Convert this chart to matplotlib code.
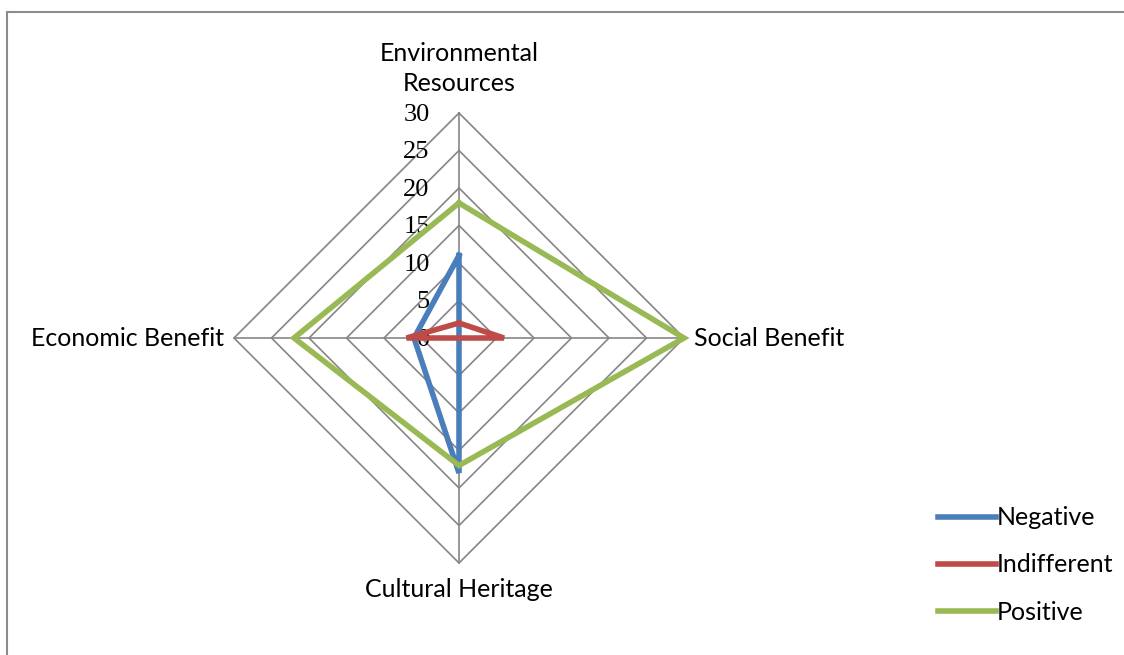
import matplotlib
matplotlib.use("Agg")
import matplotlib.pyplot as plt
import numpy as np
from matplotlib.patches import Rectangle

categories = ["Environmental\nResources", "Social Benefit", "Cultural Heritage", "Economic Benefit"]
series_names = ["Negative", "Indifferent", "Positive"]
negative = [11, 0, 18, 6]
indifferent = [2, 6, 0, 7]
positive = [18, 30, 17, 22]
ticks = [0, 5, 10, 15, 20, 25, 30]

colors = ["#4A7EBB", "#BE4B48", "#98B954"]
grid_color = "#868686"
sans = "Lato"
fs = 18

# spokes go up, right, down, left
angles = np.array([90, 0, -90, 180]) * np.pi / 180


def to_xy(vals):
    vals = np.asarray(vals, dtype=float)
    x = vals * np.cos(angles)
    y = vals * np.sin(angles)
    return np.append(x, x[0]), np.append(y, y[0])


fig = plt.figure(figsize=(11.24, 6.55), dpi=100)
ax = fig.add_axes([0, 0, 1, 1])
ax.set_xlim(-459 / 7.5, (1124 - 459) / 7.5)
ax.set_ylim(-(655 - 338) / 7.5, 338 / 7.5)
ax.axis("off")

# outer frame (cut off at right and bottom like the original)
fig.patches.append(Rectangle((7 / 1124, -0.1), 1.2, 1.1 - 12 / 655,
                             transform=fig.transFigure, fill=False,
                             edgecolor="#8c8c8c", lw=1.5))

# diamond grid
for t in ticks[1:]:
    gx, gy = to_xy([t] * 4)
    ax.plot(gx, gy, color=grid_color, lw=1.2, zorder=1)
for a in angles:
    ax.plot([0, 30 * np.cos(a)], [0, 30 * np.sin(a)], color=grid_color, lw=1.2, zorder=1)

# tick labels
for t in ticks:
    ax.text(-3.9, t - 0.2, str(t), ha="right", va="center", fontsize=19,
            family="Liberation Serif", color="black")

lines = []
for vals, c, name in zip([negative, indifferent, positive], colors, series_names):
    x, y = to_xy(vals)
    ln, = ax.plot(x, y, color=c, lw=4, solid_joinstyle="miter", zorder=3, label=name)
    lines.append(ln)

# category labels
ax.text(0, 32.4, categories[0], ha="center", va="bottom", fontsize=fs, family=sans,
        linespacing=1.38)
ax.text(31.3, 0, categories[1], ha="left", va="center", fontsize=fs, family=sans)
ax.text(0, -33.5, categories[2], ha="center", va="center", fontsize=fs, family=sans)
ax.text(-31.3, 0, categories[3], ha="right", va="center", fontsize=fs, family=sans)

leg = fig.legend(handles=lines, loc="center left", bbox_to_anchor=(938 / 1124, 1 - 565 / 655),
                 frameon=False, prop={"family": sans, "size": fs},
                 handlelength=2.3, handletextpad=0.05, labelspacing=0.97,
                 borderpad=0, borderaxespad=0)
for h in leg.legend_handles:
    h.set_linewidth(4)

fig.savefig("out.png", dpi=100)
